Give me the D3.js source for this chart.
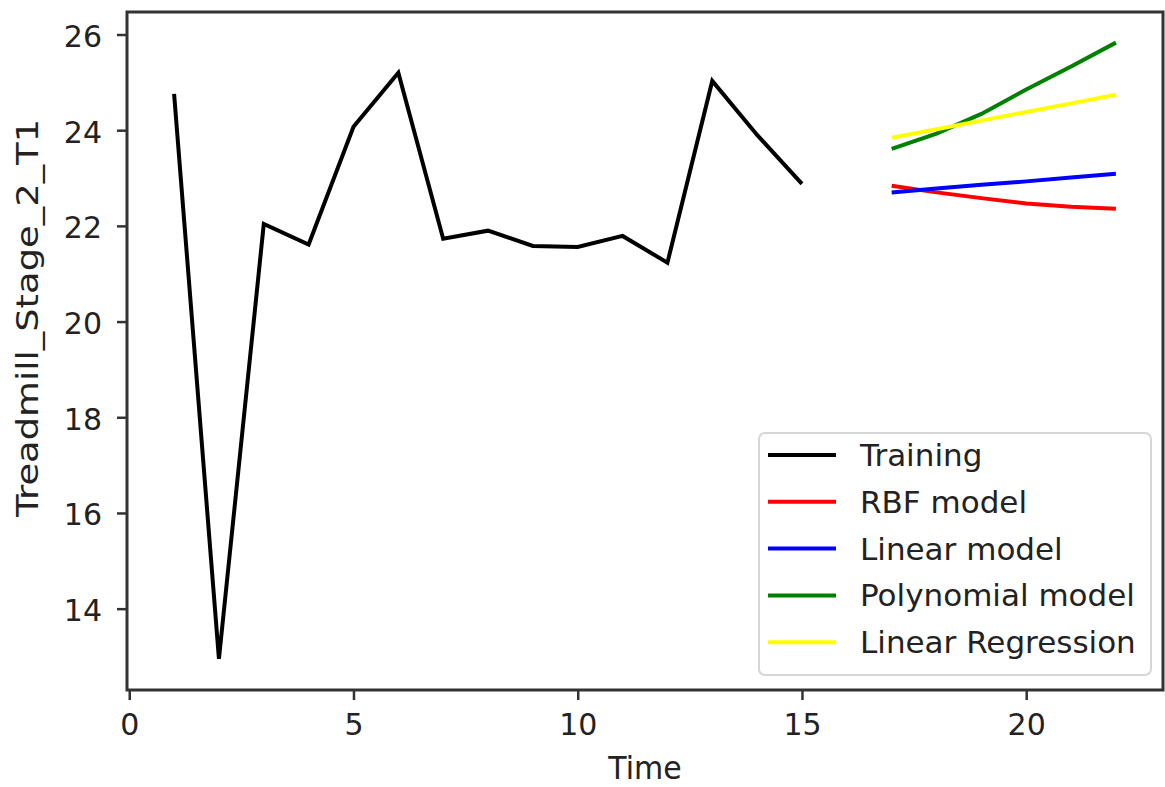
<!DOCTYPE html>
<meta charset="utf-8">
<script src="https://d3js.org/d3.v7.min.js"></script>
<style>
  body { margin: 0; background: #fff; }
  text { font-family: "DejaVu Sans", sans-serif; fill: #222; }
</style>
<div id="chart"></div>
<script>

// data
const trainX = [1, 2, 3, 4, 5, 6, 7, 8, 9, 10, 11, 12, 13, 14, 15];
const trainY = [24.76, 12.95, 22.04, 21.61, 24.07, 25.20, 21.73, 21.90, 21.58, 21.56, 21.79, 21.23, 25.03, 23.90, 22.88];
const testX = [17, 18, 19, 20, 21, 22];
const rbfY = [22.84, 22.70, 22.58, 22.47, 22.40, 22.36];
const linY = [22.70, 22.78, 22.86, 22.93, 23.01, 23.09];
const polyY = [23.61, 23.93, 24.34, 24.85, 25.33, 25.83];
const lregY = [23.84, 24.02, 24.20, 24.38, 24.56, 24.74];
const xTicks = [0, 5, 10, 15, 20];
const yTicks = [14, 16, 18, 20, 22, 24, 26];

const series = [
  {name: "Training", x: trainX, y: trainY, color: "#000000"},
  {name: "RBF model", x: testX, y: rbfY, color: "#ff0000"},
  {name: "Linear model", x: testX, y: linY, color: "#0000ff"},
  {name: "Polynomial model", x: testX, y: polyY, color: "#008000"},
  {name: "Linear Regression", x: testX, y: lregY, color: "#ffff00"}
];

const width = 1165, height = 787;
const plotL = 127, plotR = 1163, plotT = 12, plotB = 690;

const svg = d3.select("#chart").append("svg")
  .attr("width", width)
  .attr("height", height);

const x = d3.scaleLinear().domain([-0.05, 23.05]).range([plotL, plotR]);
const y = d3.scaleLinear().domain([12.3, 26.47]).range([plotB, plotT]);

// lines
const line = d3.line()
  .x(d => x(d[0]))
  .y(d => y(d[1]));

series.forEach(s => {
  svg.append("path")
    .datum(d3.zip(s.x, s.y))
    .attr("d", line)
    .attr("fill", "none")
    .attr("stroke", s.color)
    .attr("stroke-width", 4)
    .attr("stroke-linejoin", "miter");
});

// axes
const xAxis = svg.append("g")
  .attr("transform", `translate(0,${plotB})`)
  .call(d3.axisBottom(x).tickValues(xTicks).tickSize(10).tickSizeOuter(0));
const yAxis = svg.append("g")
  .attr("transform", `translate(${plotL},0)`)
  .call(d3.axisLeft(y).tickValues(yTicks).tickSize(10).tickSizeOuter(0));

[xAxis, yAxis].forEach(a => {
  a.select(".domain").remove();
  a.selectAll(".tick line").attr("stroke", "#333").attr("stroke-width", 2.5);
  a.selectAll(".tick text").attr("font-size", 30).attr("fill", "#222")
    .attr("font-family", "DejaVu Sans, sans-serif");
});
xAxis.selectAll(".tick text")
  .attr("y", 45).attr("dy", 0);
yAxis.selectAll(".tick text")
  .attr("x", -25).attr("dy", 0).attr("y", 12)
  .attr("text-anchor", "end");

// frame
svg.append("rect")
  .attr("x", plotL).attr("y", plotT)
  .attr("width", plotR - plotL).attr("height", plotB - plotT)
  .attr("fill", "none").attr("stroke", "#333").attr("stroke-width", 3);

// axis titles
svg.append("text")
  .attr("transform", `translate(645,779) scale(1,1.07)`)
  .attr("text-anchor", "middle")
  .attr("font-size", 30)
  .text("Time");

svg.append("text")
  .attr("transform", `translate(38,318) scale(1,1.23) rotate(-90)`)
  .attr("text-anchor", "middle")
  .attr("font-size", 30)
  .text("Treadmill_Stage_2_T1");

// legend
const legend = svg.append("g").attr("transform", "translate(759,433)");
legend.append("rect")
  .attr("width", 392).attr("height", 242)
  .attr("rx", 6)
  .attr("fill", "#fff").attr("fill-opacity", 0.8)
  .attr("stroke", "#d6d6d6").attr("stroke-width", 2);

legend.selectAll("line.item")
  .data(series)
  .join("line")
    .attr("class", "item")
    .attr("x1", 9).attr("x2", 77)
    .attr("y1", (d, i) => 22 + i * 46.8)
    .attr("y2", (d, i) => 22 + i * 46.8)
    .attr("stroke", d => d.color)
    .attr("stroke-width", 4);

legend.selectAll("text.item")
  .data(series)
  .join("text")
    .attr("class", "item")
    .attr("x", 101)
    .attr("y", (d, i) => 22 + i * 46.8 + 11)
    .attr("font-size", 31)
    .text(d => d.name);
</script>
